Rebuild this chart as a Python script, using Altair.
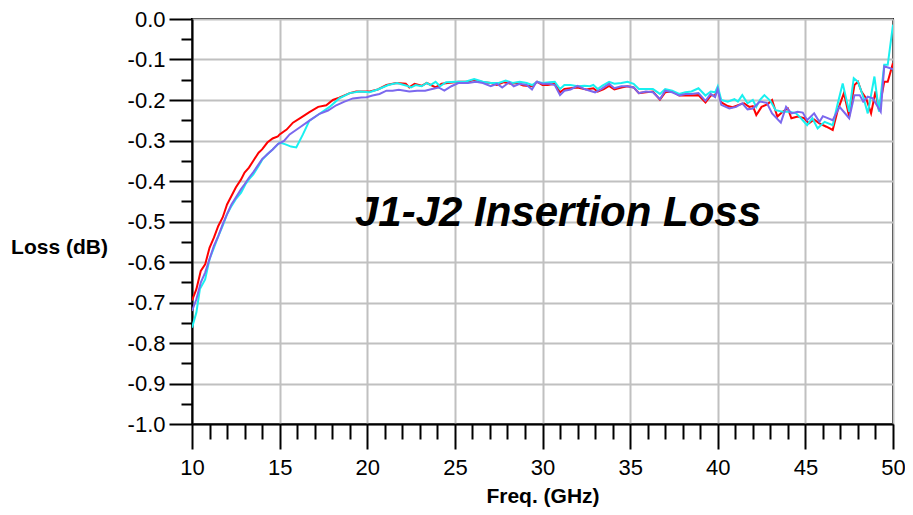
import altair as alt
import pandas as pd

FONT = "Liberation Sans"

chart_title = "J1-J2 Insertion Loss"
x_title = "Freq. (GHz)"
y_title = "Loss (dB)"

red_freq = [10.0, 10.25, 10.5, 10.75, 11.0, 11.25, 11.5, 11.75, 12.0, 12.25, 12.5, 12.8, 13.0, 13.25, 13.5, 13.8,
            14.0, 14.3, 14.6, 14.9, 15.0, 15.4, 15.76, 16.24, 16.7, 17.2, 17.66, 18.04, 18.4, 19.0, 19.37, 19.94,
            20.15, 20.6, 21.1, 21.65, 22.2, 22.4, 22.7, 23.1, 23.4, 23.9, 24.25, 24.6, 25.2, 25.75, 26.1, 26.6,
            27.05, 27.4, 27.8, 28.2, 28.55, 28.9, 29.4, 29.7, 30.0, 30.3, 30.7, 31.0, 31.25, 31.6, 32.0, 32.5,
            32.9, 33.15, 33.5, 33.8, 34.1, 34.5, 34.85, 35.2, 35.5, 35.9, 36.3, 36.7, 37.0, 37.4, 37.8, 38.15,
            38.5, 38.9, 39.3, 39.6, 39.85, 40.0, 40.2, 40.57, 40.85, 41.2, 41.5, 41.8, 42.0, 42.2, 42.5, 42.85,
            43.1, 43.4, 43.7, 44.0, 44.2, 44.56, 44.94, 45.2, 45.5, 45.8, 46.2, 46.56, 46.85, 47.2, 47.5, 47.8,
            48.0, 48.2, 48.47, 48.75, 49.0, 49.2, 49.5, 49.7, 50.0]
red_loss = [-0.695, -0.667, -0.622, -0.606, -0.565, -0.54, -0.511, -0.49, -0.458, -0.437, -0.416, -0.396, -0.379,
            -0.367, -0.35, -0.33, -0.322, -0.305, -0.295, -0.29, -0.285, -0.273, -0.256, -0.243, -0.23, -0.217,
            -0.213, -0.2, -0.194, -0.183, -0.179, -0.179, -0.179, -0.174, -0.163, -0.158, -0.16, -0.169, -0.16,
            -0.165, -0.158, -0.169, -0.16, -0.158, -0.155, -0.155, -0.15, -0.156, -0.158, -0.163, -0.156, -0.16,
            -0.158, -0.164, -0.166, -0.155, -0.163, -0.163, -0.16, -0.181, -0.173, -0.171, -0.169, -0.174, -0.171,
            -0.179, -0.173, -0.165, -0.174, -0.169, -0.166, -0.169, -0.183, -0.181, -0.179, -0.199, -0.181, -0.179,
            -0.189, -0.188, -0.189, -0.188, -0.206, -0.189, -0.188, -0.172, -0.206, -0.215, -0.218, -0.212, -0.208,
            -0.217, -0.215, -0.237, -0.217, -0.21, -0.2, -0.241, -0.229, -0.221, -0.245, -0.241, -0.245, -0.258,
            -0.248, -0.258, -0.266, -0.274, -0.225, -0.183, -0.241, -0.163, -0.155, -0.179, -0.196, -0.233, -0.179,
            -0.225, -0.155, -0.155, -0.109]

cyan_freq = [10.0, 10.25, 10.45, 10.75, 11.0, 11.25, 11.5, 11.75, 12.0, 12.25, 12.5, 12.8, 13.05, 13.25, 13.5, 13.8,
             14.0, 14.3, 14.6, 15.0, 15.3, 15.65, 15.95, 16.33, 16.7, 17.28, 17.85, 18.4, 19.0, 19.56, 20.13, 20.6,
             21.2, 21.7, 22.2, 22.5, 22.76, 23.1, 23.4, 23.6, 23.9, 24.15, 24.5, 25.1, 25.6, 26.1, 26.6, 27.05,
             27.5, 27.9, 28.3, 28.7, 29.1, 29.4, 29.7, 30.0, 30.4, 30.7, 31.0, 31.25, 31.6, 32.0, 32.4, 32.7,
             32.9, 33.15, 33.4, 33.8, 34.1, 34.5, 34.85, 35.2, 35.5, 35.9, 36.3, 36.7, 37.0, 37.4, 37.8, 38.15,
             38.5, 38.9, 39.3, 39.6, 39.85, 40.0, 40.2, 40.57, 40.95, 41.15, 41.4, 41.7, 42.0, 42.2, 42.4, 42.66,
             43.0, 43.3, 43.7, 44.1, 44.47, 44.75, 45.1, 45.4, 45.7, 46.1, 46.56, 46.85, 47.13, 47.5, 47.76, 48.0,
             48.3, 48.56, 48.94, 49.2, 49.5, 49.7, 50.0]
cyan_loss = [-0.762, -0.725, -0.667, -0.643, -0.593, -0.565, -0.536, -0.511, -0.482, -0.462, -0.445, -0.429, -0.408,
             -0.396, -0.384, -0.363, -0.348, -0.334, -0.322, -0.305, -0.309, -0.315, -0.317, -0.285, -0.251, -0.234,
             -0.217, -0.196, -0.183, -0.179, -0.181, -0.174, -0.163, -0.158, -0.164, -0.169, -0.163, -0.166, -0.158,
             -0.163, -0.155, -0.166, -0.156, -0.155, -0.155, -0.148, -0.155, -0.158, -0.158, -0.152, -0.158, -0.155,
             -0.158, -0.163, -0.155, -0.158, -0.156, -0.155, -0.173, -0.163, -0.163, -0.166, -0.165, -0.166, -0.163,
             -0.173, -0.165, -0.155, -0.16, -0.158, -0.155, -0.16, -0.173, -0.173, -0.173, -0.185, -0.173, -0.177,
             -0.185, -0.181, -0.179, -0.171, -0.189, -0.179, -0.181, -0.166, -0.2, -0.204, -0.198, -0.204, -0.188,
             -0.208, -0.2, -0.217, -0.2, -0.188, -0.202, -0.225, -0.229, -0.229, -0.233, -0.245, -0.262, -0.245,
             -0.27, -0.254, -0.262, -0.208, -0.159, -0.229, -0.146, -0.155, -0.192, -0.233, -0.142, -0.229, -0.113,
             -0.113, -0.014]

purple_freq = [10.0, 10.25, 10.5, 10.75, 11.0, 11.25, 11.5, 11.75, 12.0, 12.25, 12.5, 12.8, 13.0, 13.25, 13.5, 13.8,
               14.0, 14.3, 14.6, 14.9, 15.25, 15.57, 16.14, 16.7, 17.28, 17.76, 18.23, 18.7, 19.18, 19.66, 19.96,
               20.3, 20.7, 21.1, 21.45, 21.8, 22.4, 22.85, 23.3, 23.7, 24.07, 24.4, 24.8, 25.2, 25.75, 26.2, 26.6,
               27.05, 27.4, 27.7, 28.1, 28.36, 28.7, 29.1, 29.4, 29.66, 30.0, 30.4, 30.7, 31.0, 31.25, 31.6, 32.0,
               32.4, 32.7, 33.0, 33.35, 33.8, 34.1, 34.5, 34.85, 35.2, 35.5, 35.9, 36.3, 36.7, 37.0, 37.4, 37.8,
               38.15, 38.5, 38.9, 39.3, 39.6, 39.85, 40.0, 40.2, 40.66, 41.05, 41.4, 41.7, 42.0, 42.4, 42.8, 43.1,
               43.6, 43.9, 44.2, 44.56, 44.85, 45.1, 45.5, 45.8, 46.0, 46.56, 46.95, 47.5, 47.8, 48.1, 48.3, 48.56,
               48.85, 49.3, 49.5, 49.8, 50.0]
purple_loss = [-0.721, -0.692, -0.651, -0.626, -0.593, -0.56, -0.536, -0.507, -0.482, -0.458, -0.441, -0.42, -0.408,
               -0.392, -0.378, -0.359, -0.346, -0.334, -0.322, -0.309, -0.301, -0.285, -0.268, -0.251, -0.234,
               -0.226, -0.213, -0.204, -0.196, -0.194, -0.193, -0.189, -0.185, -0.177, -0.177, -0.175, -0.179,
               -0.177, -0.177, -0.173, -0.169, -0.177, -0.166, -0.158, -0.158, -0.155, -0.158, -0.166, -0.16,
               -0.169, -0.156, -0.166, -0.16, -0.163, -0.174, -0.155, -0.16, -0.16, -0.163, -0.188, -0.177, -0.174,
               -0.165, -0.173, -0.177, -0.181, -0.173, -0.16, -0.171, -0.166, -0.166, -0.169, -0.183, -0.179,
               -0.181, -0.198, -0.177, -0.181, -0.189, -0.185, -0.185, -0.183, -0.202, -0.185, -0.193, -0.173,
               -0.212, -0.221, -0.217, -0.208, -0.223, -0.221, -0.204, -0.207, -0.233, -0.256, -0.217, -0.233,
               -0.229, -0.231, -0.25, -0.233, -0.254, -0.24, -0.25, -0.217, -0.245, -0.188, -0.188, -0.204, -0.192,
               -0.196, -0.229, -0.117, -0.121, -0.124]

series_names = ["Red", "Cyan", "Purple"]
series_colors = ["#FF0000", "#19F0F0", "#7B68EE"]

x_major = [10, 15, 20, 25, 30, 35, 40, 45, 50]
x_minor = [v for v in range(11, 50) if v % 5 != 0]
y_major = [round(-0.1 * i, 1) for i in range(11)]
y_minor = [round(-0.05 - 0.1 * i, 2) for i in range(10)]

df = pd.concat([
    pd.DataFrame({"freq": red_freq, "loss": red_loss, "series": series_names[0]}),
    pd.DataFrame({"freq": cyan_freq, "loss": cyan_loss, "series": series_names[1]}),
    pd.DataFrame({"freq": purple_freq, "loss": purple_loss, "series": series_names[2]}),
], ignore_index=True)

x_scale = alt.Scale(domain=[10, 50], nice=False, zero=False)
y_scale = alt.Scale(domain=[-1.0, 0.0], nice=False, zero=False)

lines = alt.Chart(df).mark_line(strokeWidth=2, clip=True).encode(
    x=alt.X("freq:Q", scale=x_scale, axis=alt.Axis(
        values=x_major, format="d", orient="bottom",
        tickSize=25, tickWidth=2, tickColor="black",
        domainColor="black", domainWidth=2,
        grid=True, gridColor="#C0C0C0", gridWidth=2,
        labelFont=FONT, labelFontSize=22, labelColor="black", labelPadding=8,
        labelFlush=False, labelOverlap=False,
        title=x_title, titleFont=FONT, titleFontSize=21, titleFontWeight="bold",
        titleColor="black", titleY=72, titleBaseline="middle")),
    y=alt.Y("loss:Q", scale=y_scale, axis=alt.Axis(
        values=y_major, orient="left",
        labelExpr="(datum.value < -0.001 ? '-' : '') + format(abs(datum.value), '.1f')",
        tickSize=23, tickWidth=2, tickColor="black",
        domainColor="black", domainWidth=2,
        grid=True, gridColor="#C0C0C0", gridWidth=2,
        labelFont=FONT, labelFontSize=22, labelColor="black", labelPadding=4,
        labelFlush=False, labelOverlap=False,
        title=y_title, titleFont=FONT, titleFontSize=21, titleFontWeight="bold",
        titleColor="black", titleAngle=0, titleX=-133, titleY=228,
        titleAlign="center", titleBaseline="middle")),
    color=alt.Color("series:N", scale=alt.Scale(domain=series_names, range=series_colors), legend=None),
)

minor = alt.Chart(df).mark_point(opacity=0).encode(
    x=alt.X("freq:Q", scale=x_scale, axis=alt.Axis(
        values=x_minor, orient="bottom", tickSize=15, tickWidth=2, tickColor="black",
        labels=False, domain=False, grid=False, title=None)),
    y=alt.Y("loss:Q", scale=y_scale, axis=alt.Axis(
        values=y_minor, orient="left", tickSize=11, tickWidth=2, tickColor="black",
        labels=False, domain=False, grid=False, title=None)),
)

title_df = pd.DataFrame({"t": [chart_title]})
title = alt.Chart(title_df).mark_text(
    font=FONT, fontSize=42, fontWeight="bold", fontStyle="italic", color="black",
    align="center", baseline="middle",
).encode(text="t:N", x=alt.value(366), y=alt.value(194))

chart = alt.layer(minor, lines, title).resolve_axis(
    x="independent", y="independent"
).properties(
    width=701, height=405,
    autosize=alt.AutoSizeParams(type="none"),
    padding={"left": 184, "top": 11, "right": 12, "bottom": 83},
).configure_view(
    stroke="black", strokeWidth=2
)

chart.save("out.html", embed_options={"renderer": "svg", "actions": False})
